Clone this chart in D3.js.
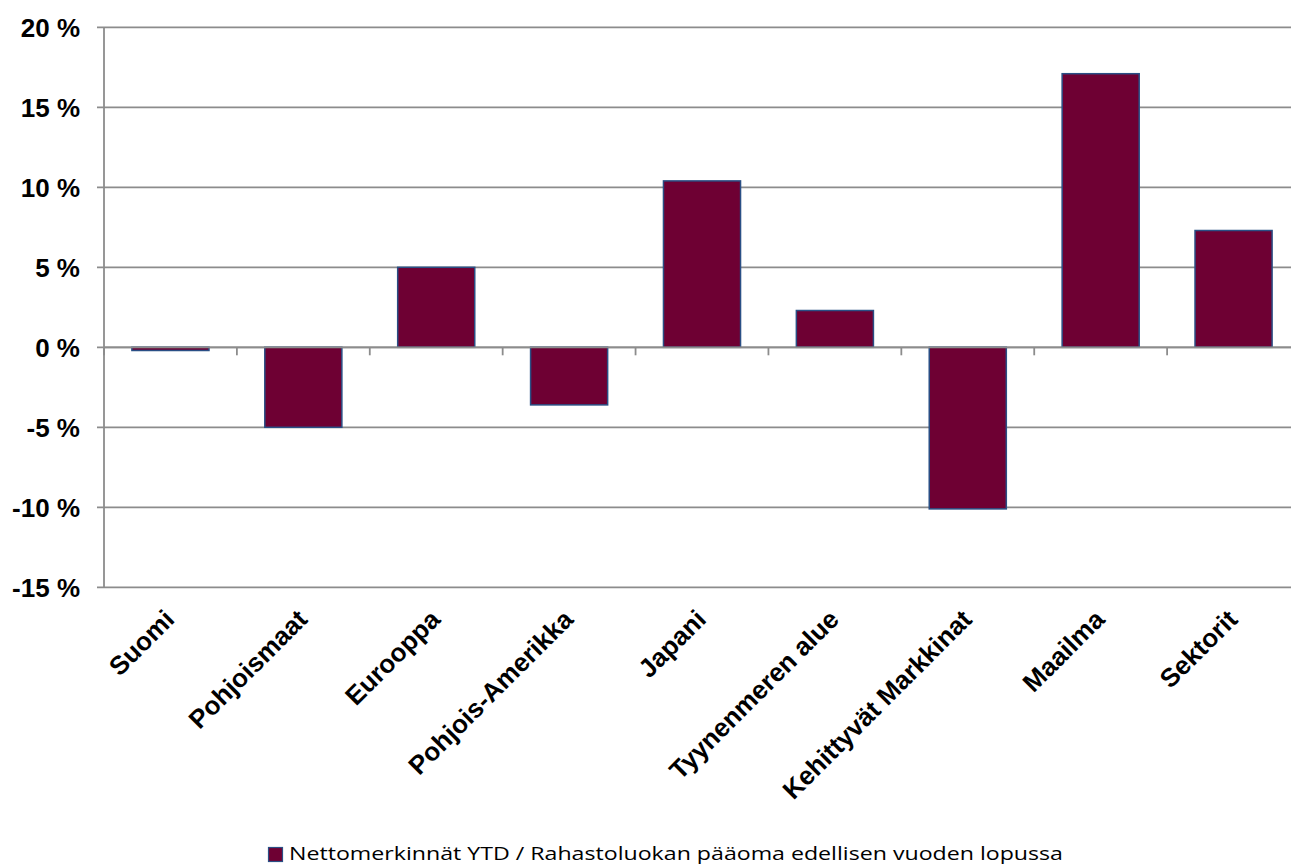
<!DOCTYPE html>
<html>
<head>
<meta charset="utf-8">
<script src="https://cdn.jsdelivr.net/npm/d3@7"></script>
<style>
  html, body { margin: 0; padding: 0; background: #fff; }
  svg { display: block; }
</style>
</head>
<body>
<svg id="chart" width="1291" height="866"></svg>
<script>
const categories = ["Suomi", "Pohjoismaat", "Eurooppa", "Pohjois-Amerikka", "Japani", "Tyynenmeren alue", "Kehittyvät Markkinat", "Maailma", "Sektorit"];
const values = [-0.2, -5.0, 5.0, -3.6, 10.4, 2.3, -10.1, 17.1, 7.3];
const yTicks = [-15, -10, -5, 0, 5, 10, 15, 20];
const seriesName = "Nettomerkinnät YTD / Rahastoluokan pääoma edellisen vuoden lopussa";

const svg = d3.select("#chart");
const plotLeft = 104, plotRight = 1300, plotTop = 27.3, plotBottom = 587.3;

const x = d3.scaleBand().domain(categories).range([plotLeft, plotRight]).paddingInner(0.42).paddingOuter(0.21);
const y = d3.scaleLinear().domain([-15, 20]).range([plotBottom, plotTop]);

const gridColor = "#8c8c8c";
const barFill = "#6e0033";
const barStroke = "#2a4f85";

// gridlines
svg.append("g").selectAll("line").data(yTicks).join("line")
  .attr("x1", plotLeft - 7).attr("x2", plotRight)
  .attr("y1", d => y(d)).attr("y2", d => y(d))
  .attr("stroke", gridColor).attr("stroke-width", 1.8);

// y axis line
svg.append("line")
  .attr("x1", plotLeft).attr("x2", plotLeft).attr("y1", plotTop).attr("y2", plotBottom)
  .attr("stroke", gridColor).attr("stroke-width", 1.8);

// y labels
svg.append("g").selectAll("text").data(yTicks).join("text")
  .attr("x", 80).attr("y", d => y(d)).attr("dy", "0.36em")
  .attr("text-anchor", "end")
  .attr("font-family", "'Liberation Sans', Arial, sans-serif")
  .attr("font-weight", "bold").attr("font-size", 26)
  .attr("fill", "#000")
  .text(d => d + " %");

// bars
svg.append("g").selectAll("rect").data(values).join("rect")
  .attr("x", (d, i) => x(categories[i]))
  .attr("width", x.bandwidth())
  .attr("y", d => y(Math.max(0, d)))
  .attr("height", d => Math.abs(y(d) - y(0)))
  .attr("fill", barFill)
  .attr("stroke", barStroke).attr("stroke-width", 1.5);

// category tick marks at band boundaries
const step = x.step();
const bounds = d3.range(0, categories.length + 1).map(k => plotLeft + k * step);
svg.append("g").selectAll("line").data(bounds).join("line")
  .attr("x1", d => d).attr("x2", d => d)
  .attr("y1", y(0)).attr("y2", y(0) + 8)
  .attr("stroke", gridColor).attr("stroke-width", 1.8);

// zero line on top
svg.append("line")
  .attr("x1", plotLeft).attr("x2", plotRight).attr("y1", y(0)).attr("y2", y(0))
  .attr("stroke", gridColor).attr("stroke-width", 1.8);

// x labels
svg.append("g").selectAll("text").data(categories).join("text")
  .attr("transform", d => `translate(${x(d) + x.bandwidth() / 2 + 5.5},${621}) rotate(-45)`)
  .attr("text-anchor", "end")
  .attr("font-family", "'Liberation Sans', Arial, sans-serif")
  .attr("font-weight", "bold").attr("font-size", 26)
  .attr("fill", "#000")
  .text(d => d);

// legend
const lg = svg.append("g");
lg.append("rect").attr("x", 268.5).attr("y", 847.5).attr("width", 14).attr("height", 14)
  .attr("fill", barFill).attr("stroke", barStroke).attr("stroke-width", 1.2);
lg.append("text").attr("x", 289).attr("y", 860)
  .attr("font-family", "'Open Sans', 'Liberation Sans', sans-serif")
  .attr("font-size", 18)
  .attr("textLength", 774).attr("lengthAdjust", "spacingAndGlyphs")
  .attr("fill", "#000")
  .text(seriesName);
</script>
</body>
</html>
